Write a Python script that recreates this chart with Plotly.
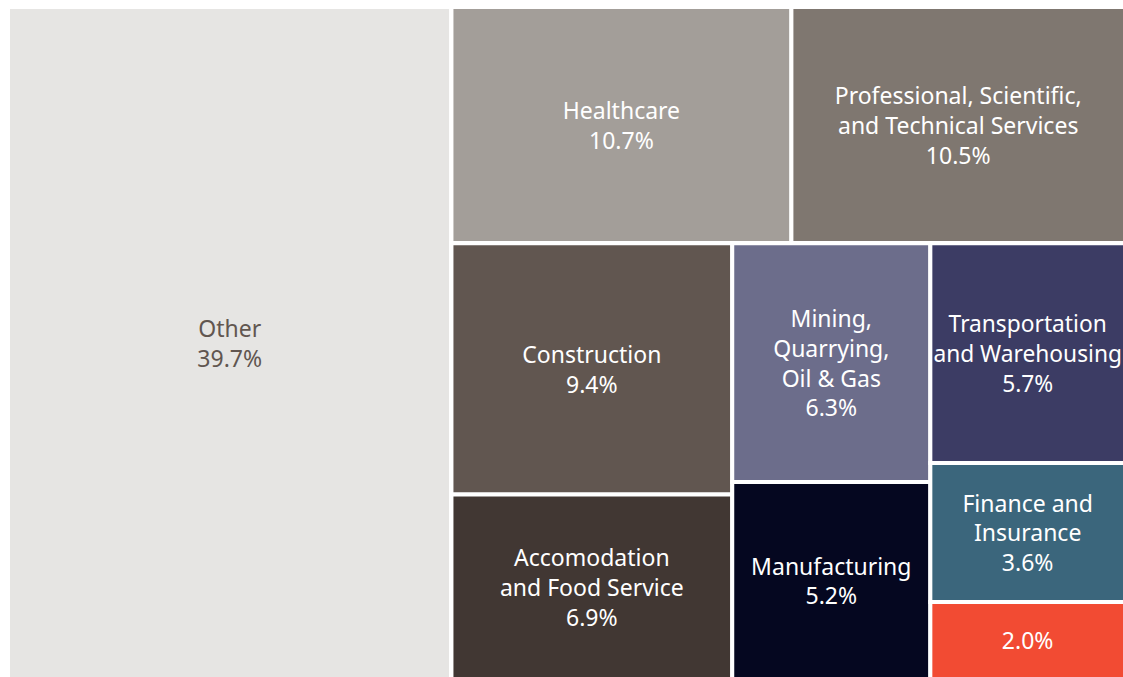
import plotly.graph_objects as go

# industry share of the total (percent)
industries = ["Other", "Healthcare", "Professional, Scientific,<br>and Technical Services",
              "Construction", "Accomodation<br>and Food Service", "Mining,<br>Quarrying,<br>Oil & Gas",
              "Manufacturing", "Transportation<br>and Warehousing", "Finance and<br>Insurance", ""]
shares = [39.7, 10.7, 10.5, 9.4, 6.9, 6.3, 5.2, 5.7, 3.6, 2.0]
colors = ["#e6e5e3", "#a39e99", "#7f7770", "#615650", "#413733",
          "#6c6d8b", "#050720", "#3c3c64", "#3b667c", "#f24b33"]
text_colors = ["#615650"] + ["#ffffff"] * 9

# grouping only used to arrange the tiles like the original (slice-dice packing)
groups = ["root", "top", "top", "col1", "col1", "col2", "col2", "col3", "col3", "col3"]
group_ids = ["root", "rest", "top", "bottom", "bw1", "bw2", "col1", "col2", "col3"]
group_parents = ["", "root", "rest", "rest", "bottom", "bw1", "bw2", "bw2", "bw2"]

n = len(shares)
ids = ["t%d" % i for i in range(n)] + group_ids
parents = groups + group_parents
values = shares + [0] * len(group_ids)
texts = [(name + "<br>" if name else "") + "%.1f%%" % v for name, v in zip(industries, shares)] \
        + [""] * len(group_ids)

fig = go.Figure(go.Treemap(
	ids = ids,
	labels = ids,
	parents = parents,
	values = values,
	text = texts,
	texttemplate = "%{text}",
	textposition = "middle center",
	textfont = dict(family = "Noto Sans", size = 23,
	                color = text_colors + ["#ffffff"] * len(group_ids)),
	marker = dict(colors = colors + ["#ffffff"] * len(group_ids),
	              line = dict(color = "white", width = 4),
	              pad = dict(t = 0, l = 0, r = 0, b = 0)),
	hoverinfo = "skip",
	sort = False,
	pathbar = dict(visible = False),
	tiling = dict(packing = "slice-dice", pad = 0),
))

fig.update_layout(width = 1125, height = 679,
                  margin = dict(l = 8, r = 0, t = 7, b = 0),
                  paper_bgcolor = "white",
                  showlegend = False)

# drop the page's default body margin so the chart fills the window
post = ("document.body.style.margin='0';document.body.style.overflow='hidden';"
        "Plotly.relayout(document.getElementById('{plot_id}'), {width: 1125, height: 679});")
fig.write_html("out.html", post_script = post, config = {"displayModeBar": False})
